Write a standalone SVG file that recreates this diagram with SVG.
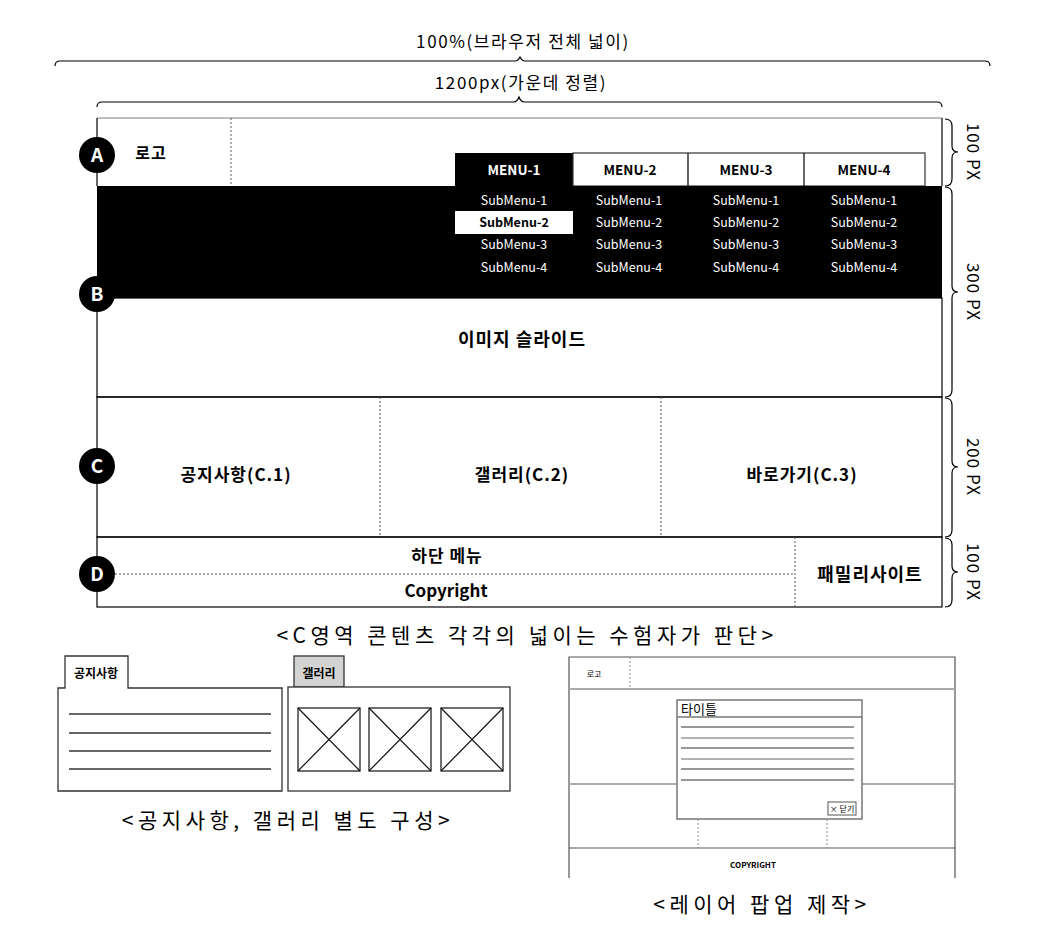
<svg xmlns="http://www.w3.org/2000/svg" width="1048" height="930" viewBox="0 0 1048 930">
<style>
text{font-family:"Noto Sans CJK KR","Noto Sans",sans-serif;fill:#000}
.b{font-weight:bold}
.t{font-size:16px;text-anchor:middle}
.k{font-size:17px;font-weight:bold;text-anchor:middle;letter-spacing:1px}
.m{font-size:13.5px;font-weight:bold;text-anchor:middle}
.s{font-size:12.5px;text-anchor:middle;fill:#fff}
.c{font-size:21px;text-anchor:middle;letter-spacing:4.5px}
.ln{stroke:#000;stroke-width:1.2;fill:none}
.dash{stroke:#555;stroke-width:1;stroke-dasharray:2,2;fill:none}
.br{stroke:#000;stroke-width:1.2;fill:none}
.px{font-size:17px;text-anchor:middle;letter-spacing:1px}
</style>
<rect width="1048" height="930" fill="#fff"/>
<g id="dim-top">
<text x="523" y="48" class="t" style="font-size:17px;letter-spacing:1.6px">100%(브라우저 전체 넓이)</text>
<path class="br" d="M55,66 Q55,61 60,61 L515,61 Q518,61 520,57 Q522,61 525,61 L985,61 Q990,61 990,66"/>
<text x="521" y="89" class="t" style="font-size:17px;letter-spacing:1.6px">1200px(가운데 정렬)</text>
<path class="br" d="M97,107 Q97,102 102,102 L514,102 Q517,102 519,97 Q521,102 524,102 L937,102 Q942,102 942,107"/>
</g>
<g id="dim-right">
<path class="br" d="M945,119 Q952,119 952,126 L952,146 Q952,152 958,152 Q952,152 952,158 L952,179 Q952,186 945,186"/>
<path class="br" d="M945,187 Q952,187 952,194 L952,286 Q952,292 958,292 Q952,292 952,298 L952,390 Q952,397 945,397"/>
<path class="br" d="M945,398 Q952,398 952,405 L952,461 Q952,467 958,467 Q952,467 952,473 L952,530 Q952,537 945,537"/>
<path class="br" d="M945,538 Q952,538 952,545 L952,566 Q952,572 958,572 Q952,572 952,578 L952,600 Q952,607 945,607"/>
<text class="px" transform="translate(967,152) rotate(90)">100 PX</text>
<text class="px" transform="translate(967,292) rotate(90)">300 PX</text>
<text class="px" transform="translate(967,467) rotate(90)">200 PX</text>
<text class="px" transform="translate(967,572) rotate(90)">100 PX</text>
</g>
<g id="header">
<rect x="97" y="118" width="845" height="68" fill="#fff"/>
<line x1="97" y1="118" x2="942" y2="118" stroke="#aaa" stroke-width="1.5"/>
<line x1="97" y1="118" x2="97" y2="186" class="ln"/>
<line x1="942" y1="118" x2="942" y2="186" class="ln"/>
<line x1="231" y1="118" x2="231" y2="186" class="dash"/>
<text x="151" y="159" class="k" style="font-size:16px">로고</text>
</g>
<g id="menu">
<rect x="455" y="153" width="118" height="33" fill="#000"/>
<rect x="573" y="153" width="352" height="33" fill="#fff" stroke="#333" stroke-width="1.2"/>
<line x1="688" y1="153" x2="688" y2="186" class="ln"/>
<line x1="804" y1="153" x2="804" y2="186" class="ln"/>
<text x="514" y="175" class="m" style="fill:#fff">MENU-1</text>
<text x="630" y="175" class="m">MENU-2</text>
<text x="746" y="175" class="m">MENU-3</text>
<text x="864" y="175" class="m">MENU-4</text>
</g>
<g id="submenu">
<rect x="97" y="186" width="845" height="112" fill="#000"/>
<rect x="455" y="211" width="118" height="23" fill="#fff"/>
<text x="514" y="205" class="s">SubMenu-1</text>
<text x="514" y="227" class="s b" style="fill:#000">SubMenu-2</text>
<text x="514" y="249" class="s">SubMenu-3</text>
<text x="514" y="272" class="s">SubMenu-4</text>
<text x="629" y="205" class="s">SubMenu-1</text>
<text x="629" y="227" class="s">SubMenu-2</text>
<text x="629" y="249" class="s">SubMenu-3</text>
<text x="629" y="272" class="s">SubMenu-4</text>
<text x="746" y="205" class="s">SubMenu-1</text>
<text x="746" y="227" class="s">SubMenu-2</text>
<text x="746" y="249" class="s">SubMenu-3</text>
<text x="746" y="272" class="s">SubMenu-4</text>
<text x="864" y="205" class="s">SubMenu-1</text>
<text x="864" y="227" class="s">SubMenu-2</text>
<text x="864" y="249" class="s">SubMenu-3</text>
<text x="864" y="272" class="s">SubMenu-4</text>
</g>
<g id="slide">
<rect x="97" y="298" width="845" height="99" fill="#fff" class="ln"/>
<text x="522" y="346" class="k" style="font-size:18px">이미지 슬라이드</text>
</g>
<g id="content">
<rect x="97" y="397" width="845" height="140" class="ln"/>
<line x1="380" y1="397" x2="380" y2="537" class="dash"/>
<line x1="661" y1="397" x2="661" y2="537" class="dash"/>
<text x="236" y="481" class="k">공지사항(C.1)</text>
<text x="522" y="481" class="k">갤러리(C.2)</text>
<text x="802" y="481" class="k">바로가기(C.3)</text>
</g>
<g id="footer">
<rect x="97" y="537" width="845" height="70" class="ln"/>
<line x1="795" y1="537" x2="795" y2="607" class="dash"/>
<line x1="115" y1="574" x2="795" y2="574" class="dash"/>
<text x="447" y="562" class="k">하단 메뉴</text>
<text x="446" y="597" class="t b" style="font-size:17px">Copyright</text>
<text x="870" y="581" class="k" style="font-size:18px">패밀리사이트</text>
</g>
<g id="markers">
<circle cx="97" cy="155" r="18" fill="#000"/>
<text x="97" y="162" class="b" style="font-size:19px;fill:#fff;text-anchor:middle">A</text>
<circle cx="97" cy="294" r="18" fill="#000"/>
<text x="97" y="301" class="b" style="font-size:19px;fill:#fff;text-anchor:middle">B</text>
<circle cx="97" cy="466" r="18" fill="#000"/>
<text x="97" y="473" class="b" style="font-size:19px;fill:#fff;text-anchor:middle">C</text>
<circle cx="97" cy="574" r="18" fill="#000"/>
<text x="97" y="581" class="b" style="font-size:19px;fill:#fff;text-anchor:middle">D</text>
</g>
<text x="527" y="643" class="c">&lt;C영역 콘텐츠 각각의 넓이는 수험자가 판단&gt;</text>
<g id="notice">
<path d="M58,688 L65,688 L65,656 L128,656 L128,688 L282,688 L282,791 L58,791 Z" fill="#fff" stroke="#333" stroke-width="1.3"/>
<text x="96" y="678" class="b" style="font-size:12px;text-anchor:middle">공지사항</text>
<g stroke="#333" stroke-width="1.3">
<line x1="69" y1="714" x2="271" y2="714"/>
<line x1="69" y1="733" x2="271" y2="733"/>
<line x1="69" y1="751" x2="271" y2="751"/>
<line x1="69" y1="769" x2="271" y2="769"/>
</g>
</g>
<g id="gallery">
<rect x="294" y="656" width="50" height="31" fill="#d3d3d3" stroke="#333" stroke-width="1.3"/>
<text x="319" y="678" class="b" style="font-size:12px;text-anchor:middle">갤러리</text>
<rect x="288" y="687" width="222" height="104" fill="#fff" stroke="#333" stroke-width="1.3"/>
<g stroke="#111" stroke-width="1.2" fill="none">
<rect x="298" y="708" width="62" height="63"/>
<path d="M298,708 L360,771 M360,708 L298,771"/>
<rect x="369" y="708" width="62" height="63"/>
<path d="M369,708 L431,771 M431,708 L369,771"/>
<rect x="441" y="708" width="62" height="63"/>
<path d="M441,708 L503,771 M503,708 L441,771"/>
</g>
</g>
<text x="288" y="828" class="c">&lt;공지사항, 갤러리 별도 구성&gt;</text>
<g id="layer-page">
<path d="M569,878 L569,657 L955,657 L955,878" fill="#fff" stroke="#555" stroke-width="1.2"/>
<line x1="630" y1="657" x2="630" y2="689" class="dash" style="stroke:#888"/>
<line x1="569" y1="689" x2="955" y2="689" stroke="#aaa" stroke-width="2"/>
<line x1="569" y1="784" x2="955" y2="784" stroke="#aaa" stroke-width="2"/>
<line x1="569" y1="848" x2="955" y2="848" stroke="#555" stroke-width="1.2"/>
<line x1="698" y1="819" x2="698" y2="848" class="dash" style="stroke:#888"/>
<line x1="827" y1="819" x2="827" y2="848" class="dash" style="stroke:#888"/>
<text x="594" y="677" style="font-size:8px;text-anchor:middle">로고</text>
<text x="753" y="868" class="b" style="font-size:8px;text-anchor:middle">COPYRIGHT</text>
</g>
<g id="popup">
<rect x="677" y="700" width="185" height="119" fill="#fff" stroke="#777" stroke-width="1.5"/>
<line x1="677" y1="717" x2="862" y2="717" stroke="#777" stroke-width="1.5"/>
<text x="681" y="714" style="font-size:13px">타이틀</text>
<line x1="681" y1="727" x2="854" y2="727" stroke="#333" stroke-width="1"/>
<line x1="681" y1="738" x2="854" y2="738" stroke="#999" stroke-width="1.5"/>
<line x1="681" y1="748" x2="854" y2="748" stroke="#333" stroke-width="1"/>
<line x1="681" y1="759" x2="854" y2="759" stroke="#999" stroke-width="1.5"/>
<line x1="681" y1="769" x2="854" y2="769" stroke="#333" stroke-width="1"/>
<line x1="681" y1="780" x2="854" y2="780" stroke="#333" stroke-width="1"/>
<rect x="828" y="802" width="28" height="13" fill="#fff" stroke="#555" stroke-width="1"/>
<text x="842" y="812" style="font-size:8px;text-anchor:middle">× 닫기</text>
</g>
<text x="762" y="912" class="c">&lt;레이어 팝업 제작&gt;</text>
</svg>
